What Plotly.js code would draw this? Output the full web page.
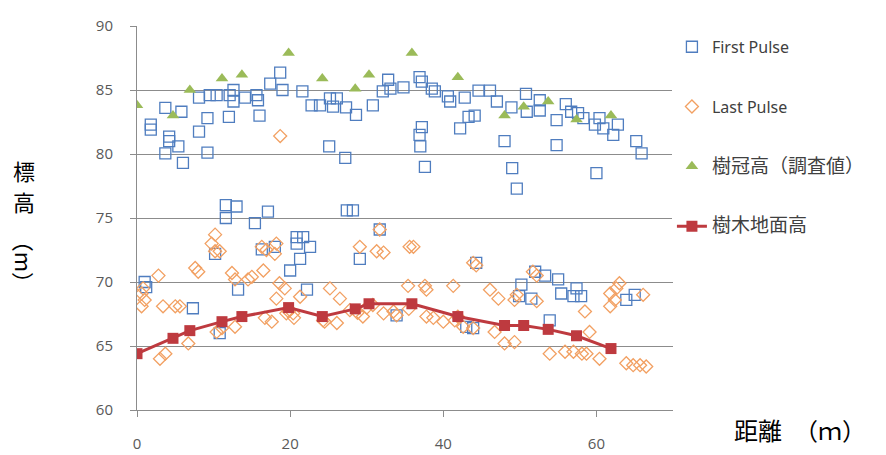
<!DOCTYPE html>
<html>
<head>
<meta charset="utf-8">
<script src="https://cdn.plot.ly/plotly-3.0.1.min.js"></script>
<style>html,body{margin:0;padding:0;background:#fff;}#chart{width:886px;height:455px;}</style>
</head>
<body>
<div id="chart"></div>
<script>
// First Pulse points
const firstX = [1.2,1.0,1.8,1.8,3.7,4.2,4.2,3.7,5.4,5.8,6.0,8.1,8.1,9.2,9.2,9.5,10.4,12.1,12.6,12.0,12.6,14.1,15.6,15.8,16.0,17.4,18.7,19.0,21.6,22.8,23.9,25.2,26.1,25.6,27.3,28.6,30.8,25.1,27.2,32.1,32.8,33.1,34.8,36.9,37.2,38.5,38.9,40.6,40.9,42.8,44.6,46.1,47.0,42.2,43.3,44.1,37.2,36.9,37.0,37.6,48.9,50.8,50.9,52.6,52.6,48.0,49.0,49.6,54.8,54.8,56.0,56.7,57.6,58.3,59.8,60.4,60.9,62.2,62.8,60.0,65.2,65.9,
  11.6,13.0,11.6,17.1,15.4,27.4,28.2,10.2,16.3,18.0,20.85,21.7,20.85,22.6,21.3,20.0,29.1,7.3,13.2,22.2,10.8,31.7,44.3,52.0,53.3,55.0,50.2,49.9,51.5,55.4,57.4,58.0,57.0,63.9,65.0,53.9,43.0,43.9,33.9];
const firstY = [69.6,70.0,82.3,81.9,83.6,81.35,81.0,80.05,80.6,83.3,79.3,84.4,81.75,82.8,80.1,84.6,84.6,84.6,85.0,82.9,84.1,84.4,84.6,84.2,83.0,85.5,86.35,85.0,84.9,83.8,83.8,84.35,84.35,83.7,83.65,83.05,83.8,80.6,79.7,84.9,85.8,85.1,85.2,86.0,85.65,85.1,84.9,84.5,84.1,84.4,84.95,84.95,84.1,82.0,82.9,83.0,82.1,81.5,80.6,79.0,83.65,84.7,83.3,84.2,83.4,81.0,78.9,77.3,82.65,80.7,83.9,83.3,83.2,82.8,82.3,82.8,82.0,81.5,82.3,78.5,81.0,80.05,
  76.0,75.9,75.0,75.5,74.6,75.6,75.6,72.2,72.55,72.75,73.5,73.5,73.0,72.75,71.8,70.9,71.8,67.95,69.4,69.4,66.0,74.1,71.5,70.8,70.5,70.2,69.8,68.9,68.7,69.1,69.5,68.9,68.9,68.6,69.0,67.0,66.5,66.4,67.4];

// Last Pulse points
const lastX = [0.6,0.8,1.0,0.6,2.8,3.4,5.0,5.6,7.6,8.0,10.2,9.75,10.2,10.8,12.4,12.8,14.5,15.0,16.5,16.3,16.9,18.2,18.0,18.6,19.3,21.3,18.2,16.7,17.6,19.5,20.4,25.2,26.5,27.8,29.5,24.3,26.1,29.1,31.3,3.0,3.7,6.7,10.4,11.1,12.8,18.7,
  31.7,32.2,35.6,36.1,35.4,37.6,37.8,41.3,43.9,44.3,46.1,47.2,49.6,49.3,51.7,52.2,52.2,58.5,59.1,63.0,62.6,61.8,62.4,61.8,66.1,32.2,33.5,33.9,37.8,38.7,40.0,41.9,42.6,43.9,46.7,48.0,49.3,53.9,55.9,57.0,58.1,58.7,60.4,63.9,64.8,65.7,66.5,
  19.8,20.5,24.5,28.8,30.0,35.5,41.5,30.8];
const lastY = [69.1,69.5,68.6,68.1,70.5,68.1,68.1,68.1,71.1,70.8,73.7,73.0,72.4,72.4,70.7,70.2,70.2,70.4,70.9,72.75,72.5,73.0,72.2,69.9,69.5,68.85,68.7,67.2,66.9,67.55,67.55,69.5,68.7,67.8,67.3,67.0,66.8,72.75,72.4,64.0,64.4,65.2,66.1,66.4,66.5,81.4,
  74.1,72.3,72.75,72.75,69.7,69.7,69.4,69.7,71.5,71.3,69.4,68.7,69.0,68.6,70.8,70.5,68.5,67.7,66.1,69.9,69.5,69.1,68.6,68.1,69.0,67.55,67.7,67.4,67.3,67.2,66.9,67.3,66.5,66.4,66.1,65.2,65.3,64.4,64.55,64.55,64.4,64.4,64.0,63.65,63.5,63.5,63.4,
  67.7,67.2,66.9,67.6,68.0,67.9,67.0,68.2];

// Survey positions (trees)
const treeX = [0,4.7,6.9,11.1,13.7,19.8,24.2,28.5,30.3,35.9,41.9,48.0,50.5,53.7,57.4,61.9];
// 樹冠高（調査値）
const crownY = [83.8,83.0,85.0,85.9,86.2,87.9,85.9,85.1,86.2,87.9,86.0,83.0,83.7,84.1,82.7,83.0];
// 樹木地面高
const groundY = [64.4,65.6,66.2,66.9,67.3,68.0,67.3,67.9,68.3,68.3,67.3,66.6,66.6,66.3,65.8,64.8];

const xTicks = [0,20,40,60];
const yTicks = [60,65,70,75,80,85,90];

const legFont = {family:'Noto Sans, Noto Sans CJK JP, sans-serif', size:16, color:'#404040'};
const cjk = s => '<span style="font-size:19px">' + s + '</span>';

const traces = [
  {x:firstX, y:firstY, name:'First Pulse', type:'scatter', mode:'markers', legendgroup:'a',
   marker:{symbol:'square-open', size:11, color:'#4F7DBF', line:{width:1.3}}},
  {x:lastX, y:lastY, name:'Last Pulse', type:'scatter', mode:'markers', legendgroup:'b',
   marker:{symbol:'diamond-open', size:10, color:'#F2A062', line:{width:1.3}}},
  {x:treeX, y:crownY, name:cjk('樹冠高（調査値）'), type:'scatter', mode:'markers', legendgroup:'c',
   marker:{symbol:'triangle-up', size:11, color:'#9BBB59'}},
  {x:treeX, y:groundY, name:cjk('樹木地面高'), type:'scatter', mode:'lines+markers', legendgroup:'d',
   line:{color:'#BE3A3F', width:3}, marker:{symbol:'square', size:11, color:'#BE3A3F'}}
];

const titleFont = {family:'Noto Sans CJK JP, sans-serif', size:22, color:'#000'};

const layout = {
  width:886, height:455,
  margin:{l:137, r:213, t:26, b:45},
  paper_bgcolor:'#fff', plot_bgcolor:'#fff',
  showlegend:true,
  legend:{x:0.998, y:0.99, xanchor:'left', yanchor:'top', traceorder:'grouped', tracegroupgap:36, font:legFont, itemwidth:30},
  xaxis:{range:[0,70], tickvals:xTicks, ticktext:xTicks.map(String), showgrid:false, zeroline:false,
    showline:true, linecolor:'#8c8c8c', linewidth:1, ticks:'outside', ticklen:6, tickcolor:'#8c8c8c',
    ticklabelstandoff:14, tickfont:{family:'Open Sans, sans-serif', size:15, color:'#595959'}},
  yaxis:{range:[60,90], tickvals:yTicks, ticktext:yTicks.map(String), showgrid:true, gridcolor:'#8c8c8c', gridwidth:1,
    zeroline:false, showline:true, linecolor:'#8c8c8c', linewidth:1, ticks:'outside', ticklen:6, tickcolor:'#8c8c8c',
    ticklabelstandoff:14, tickfont:{family:'Open Sans, sans-serif', size:15, color:'#595959'}},
  annotations:[
    {text:'標', xref:'paper', yref:'paper', x:-0.21, y:0.625, xanchor:'center', yanchor:'middle', showarrow:false, font:titleFont},
    {text:'高', xref:'paper', yref:'paper', x:-0.21, y:0.545, xanchor:'center', yanchor:'middle', showarrow:false, font:titleFont},
    {text:'（m）', xref:'paper', yref:'paper', x:-0.21, y:0.385, xanchor:'center', yanchor:'middle', showarrow:false, textangle:90, font:titleFont},
    {text:'距離　（ｍ）', xref:'paper', yref:'paper', x:1.11, y:-0.05, xanchor:'left', yanchor:'middle', showarrow:false,
     font:{family:'Noto Sans CJK JP, sans-serif', size:24, color:'#000'}}
  ]
};

Plotly.newPlot('chart', traces, layout, {displayModeBar:false, staticPlot:true});
</script>
</body>
</html>
